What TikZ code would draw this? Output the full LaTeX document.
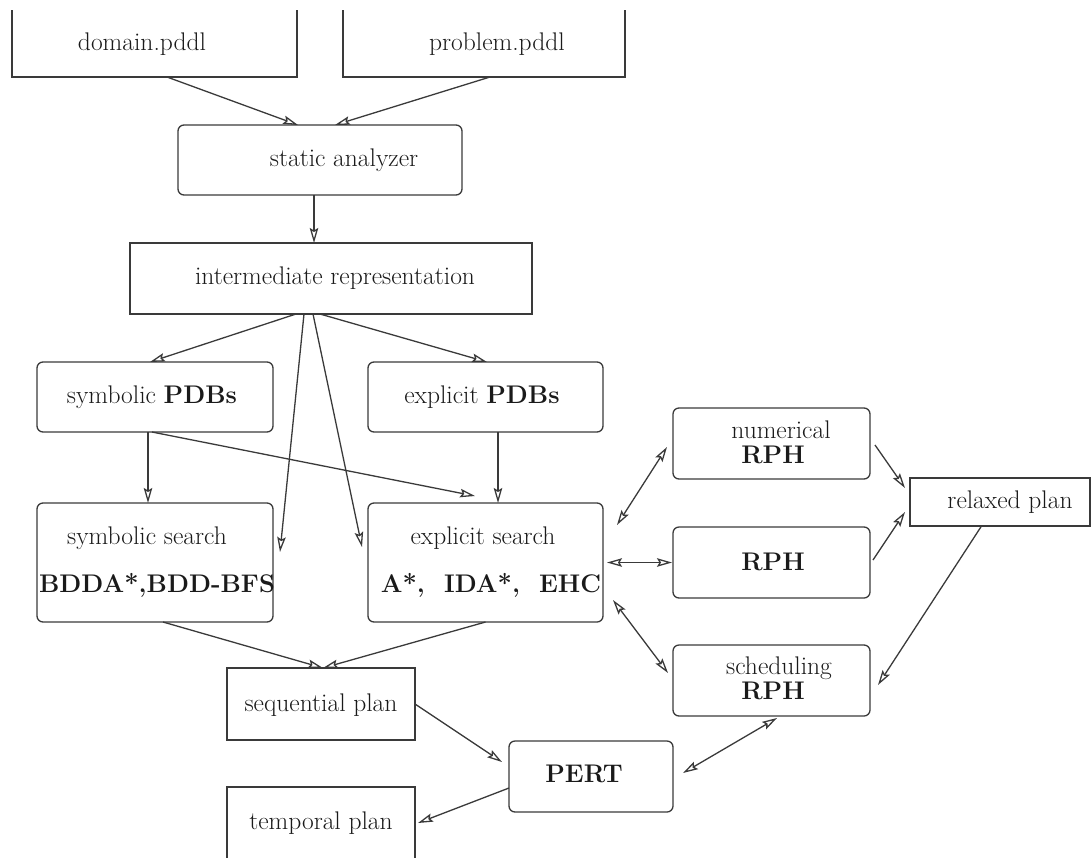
\documentclass[tikz,border=0pt]{standalone}
\usepackage{fontspec}
\usetikzlibrary{arrows.meta}
\definecolor{lc}{HTML}{3A3A3A}
\definecolor{tc}{HTML}{1A1A1A}
\begin{document}
\begin{tikzpicture}[x=1pt,y=-1pt,
  box/.style={draw=lc, line width=1.3pt, inner sep=0pt, outer sep=0pt, fill=none},
  rbox/.style={box, rounded corners=6pt},
  txt/.style={text=tc, inner sep=0pt, font=\fontsize{25.5}{30}\selectfont},
  tip/.tip={Stealth[open,length=15pt,width=8.5pt,inset=2.5pt]},
  arr/.style={draw=lc, line width=1.3pt, -tip},
  darr/.style={draw=lc, line width=1.3pt, tip-tip}]
\useasboundingbox (0,0) rectangle (1091,857);
\begin{scope}
\clip (0,10) rectangle (1091,857);
% boxes cut by the picture's edges
\node[box, minimum width=285, minimum height=107] (dom) at (154.5,23.5) {};
\node[box, minimum width=282, minimum height=107] (prob) at (484,23.5) {};
\node[box, minimum width=188, minimum height=72] (temp) at (321,823) {};
\end{scope}
\node[rbox, minimum width=284, minimum height=70] (sa) at (320,160) {};
\node[box, minimum width=402, minimum height=71] (ir) at (331,278.5) {};
\node[rbox, minimum width=236, minimum height=70] (sp) at (155,397) {};
\node[rbox, minimum width=235, minimum height=70] (ep) at (485.5,397) {};
\node[rbox, minimum width=236, minimum height=119] (ss) at (155,562.5) {};
\node[rbox, minimum width=235, minimum height=119] (es) at (485.5,562.5) {};
\node[rbox, minimum width=197, minimum height=71] (nr) at (771.5,443.5) {};
\node[rbox, minimum width=197, minimum height=71] (rph) at (771.5,562.5) {};
\node[rbox, minimum width=197, minimum height=71] (sch) at (771.5,680.5) {};
\node[box, minimum width=180, minimum height=48] (rp) at (1000,502) {};
\node[box, minimum width=188, minimum height=72] (seq) at (321,704) {};
\node[rbox, minimum width=164, minimum height=71] (pert) at (591,776.5) {};
% texts
\node[txt] (domt) at (142,44) {domain.pddl};
\node[txt] (probt) at (497,44) {problem.pddl};
\node[txt] (sat) at (344,160) {static analyzer};
\node[txt] (irt) at (335,278) {intermediate representation};
\node[txt] (spt) at (152,397) {symbolic \textbf{PDBs}};
\node[txt] (ept) at (482,397) {explicit \textbf{PDBs}};
\node[txt] (sst1) at (147,538) {symbolic search};
\node[txt] (sst2) at (157,585) {\textbf{BDDA*,BDD-BFS}};
\node[txt] (est1) at (483,538) {explicit search};
\node[txt] (est2) at (491,585) {\textbf{A*,\ \ IDA*,\ \ EHC}};
\node[txt] (nrt1) at (781,429.5) {numerical};
\node[txt] (nrt2) at (773,454.5) {\textbf{RPH}};
\node[txt] (rpht) at (773,562) {\textbf{RPH}};
\node[txt] (scht1) at (779,668) {scheduling};
\node[txt] (scht2) at (773,691) {\textbf{RPH}};
\node[txt] (rpt) at (1010,502) {relaxed plan};
\node[txt] (seqt) at (321,705) {sequential plan};
\node[txt] (pertt) at (584,774) {\textbf{PERT}};
\node[txt] (tempt) at (321,823) {temporal plan};
% connectors
\draw[arr] ([xshift=12.5pt]dom.south) -- ([xshift=-22pt]sa.north);
\draw[arr] ([xshift=6pt]prob.south) -- ([xshift=15pt]sa.north);
\draw[arr] ([xshift=-6pt]sa.south) -- ([xshift=-17pt]ir.north);
\draw[arr] ([xshift=-35pt]ir.south) -- ([xshift=-5pt]sp.north);
\draw[arr] ([xshift=-27pt]ir.south) -- ([xshift=7pt,yshift=10.5pt]ss.east);
\draw[arr] ([xshift=-18pt]ir.south) -- ([xshift=-6pt,yshift=15.5pt]es.west);
\draw[arr] ([xshift=-11pt]ir.south) -- ([xshift=1.5pt]ep.north);
\draw[arr] ([xshift=-7pt]sp.south) -- ([xshift=-7pt]ss.north);
\draw[arr] ([xshift=-3pt]sp.south) -- ([xshift=-10.5pt,yshift=7pt]es.north);
\draw[arr] ([xshift=12.5pt]ep.south) -- ([xshift=12.5pt]es.north);
\draw[darr] ([xshift=14pt,yshift=37.5pt]es.east) -- ([xshift=-6pt,yshift=-3.5pt]nr.west);
\draw[darr] ([xshift=4pt]es.east) -- ([xshift=-1pt]rph.west);
\draw[darr] ([xshift=10pt,yshift=-37.5pt]es.east) -- ([xshift=-5pt,yshift=7.5pt]sch.west);
\draw[arr] ([xshift=5pt,yshift=-1.5pt]nr.east) -- ([xshift=-5pt,yshift=14pt]rp.west);
\draw[arr] ([xshift=3pt,yshift=2.5pt]rph.east) -- ([xshift=-5pt,yshift=-10pt]rp.west);
\draw[arr] ([xshift=-18.5pt]rp.south) -- ([xshift=8pt,yshift=-4.5pt]sch.east);
\draw[arr] ([xshift=8pt]ss.south) -- ([xshift=2pt]seq.north);
\draw[arr] (es.south) -- ([xshift=2pt]seq.north);
\draw[arr] (seq.east) -- ([xshift=-7pt,yshift=14.5pt]pert.west);
\draw[darr] ([xshift=10pt,yshift=3.5pt]pert.east) -- ([xshift=5.5pt,yshift=-2pt]sch.south);
\draw[arr] ([yshift=-11.5pt]pert.west) -- ([xshift=3pt]temp.east);
\end{tikzpicture}
\end{document}
